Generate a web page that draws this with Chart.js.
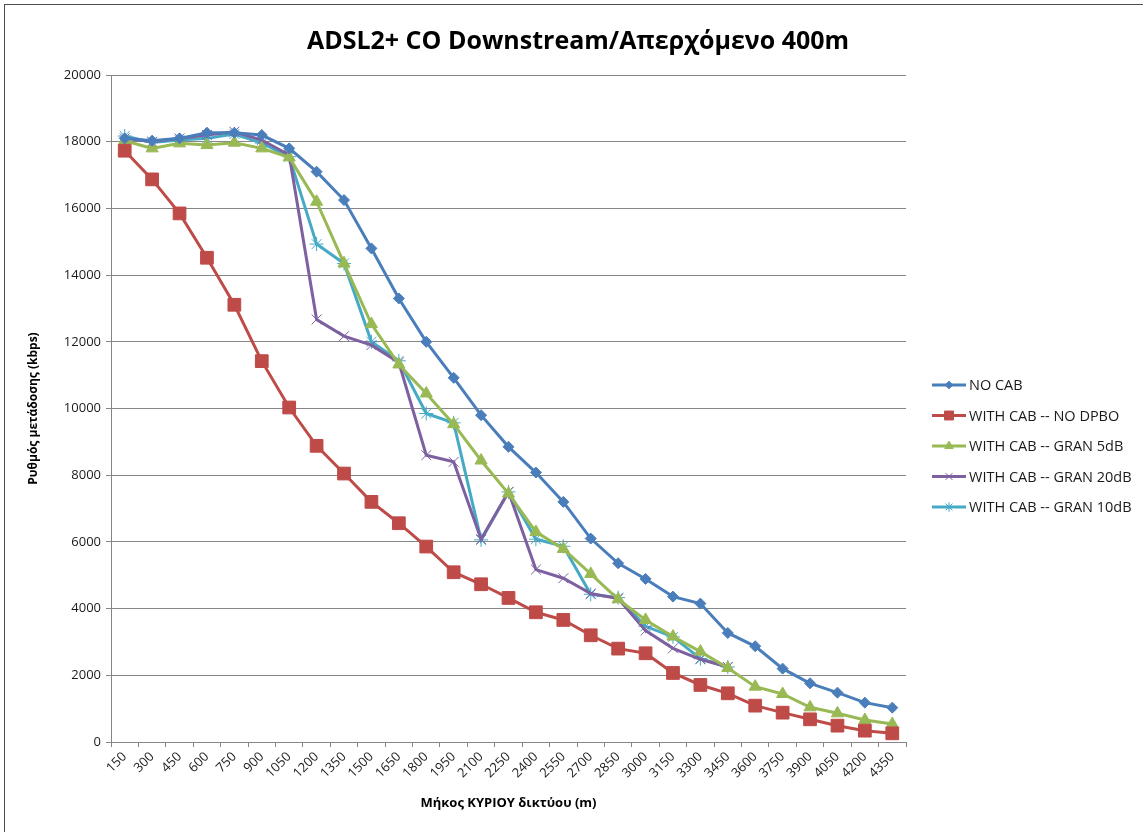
<!DOCTYPE html>
<html>
<head>
<meta charset="utf-8">
<script src="https://cdn.jsdelivr.net/npm/chart.js@4.4.1/dist/chart.umd.min.js"></script>
<style>
  html, body { margin: 0; padding: 0; background: #fff; }
  #wrap { position: relative; width: 1143px; height: 832px; }
  #frame { position: absolute; left: 4px; top: 4px; right: -2px; bottom: -2px;
           border-top: 1px solid #4d4d4d; border-left: 1px solid #4d4d4d; pointer-events: none; }
  canvas { display: block; }
</style>
</head>
<body>
<div id="wrap">
  <canvas id="c" width="1143" height="832"></canvas>
  <div id="frame"></div>
</div>
<script>
// Main line length (m)
const lengths = [150, 300, 450, 600, 750, 900, 1050, 1200, 1350, 1500, 1650, 1800, 1950, 2100, 2250,
                 2400, 2550, 2700, 2850, 3000, 3150, 3300, 3450, 3600, 3750, 3900, 4050, 4200, 4350];

// Downstream rate (kbps) per scenario
const noCab = [18100, 18030, 18100, 18270, 18270, 18200, 17800, 17100, 16250, 14800, 13300, 12000, 10920, 9800, 8850,
               8080, 7200, 6100, 5360, 4890, 4360, 4150, 3270, 2870, 2200, 1760, 1480, 1180, 1030];
const cabNoDpbo = [17730, 16870, 15850, 14520, 13110, 11420, 10030, 8880, 8050, 7200, 6560, 5860, 5090, 4730, 4320,
                   3890, 3660, 3200, 2800, 2660, 2070, 1710, 1460, 1090, 880, 680, 490, 340, 260];
const cabGran5 = [18030, 17800, 17950, 17900, 17970, 17800, 17530, 16200, 14350, 12530, 11320, 10450, 9530, 8440, 7450,
                  6300, 5790, 5040, 4280, 3660, 3160, 2710, 2220, 1660, 1440, 1040, 860, 660, 540];
const cabGran20 = [18100, 18000, 18100, 18200, 18300, 18050, 17600, 12670, 12170, 11900, 11380, 8600, 8400, 6080, 7500,
                   5170, 4910, 4450, 4300, 3340, 2810, 2480, 2250];
const cabGran10 = [18170, 17980, 18050, 18100, 18230, 17960, 17550, 14930, 14350, 12000, 11430, 9850, 9570, 6060, 7500,
                   6080, 5870, 4430, 4330, 3470, 3150, 2500, 2250];

const yTicks = [0, 2000, 4000, 6000, 8000, 10000, 12000, 14000, 16000, 18000, 20000];

const chartTitle = 'ADSL2+ CO Downstream/Απερχόμενο 400m';

const FONT = "'Open Sans', 'DejaVu Sans', sans-serif";

function series(label, data, color, style, radius, bw) {
  return {
    label, data,
    borderColor: color,
    backgroundColor: color,
    borderWidth: 3,
    pointStyle: style,
    pointRadius: radius,
    pointHoverRadius: radius,
    pointBackgroundColor: color,
    pointBorderColor: color,
    pointBorderWidth: bw,
    tension: 0,
    spanGaps: false
  };
}

const datasets = [
  series('NO CAB', noCab, '#4a7ebb', 'rectRot', 5.5, 1),
  series('WITH CAB -- NO DPBO', cabNoDpbo, '#be4b48', 'rect', 9, 1),
  series('WITH CAB -- GRAN 5dB', cabGran5, '#98b954', 'triangle', 7, 1),
  series('WITH CAB -- GRAN 20dB', cabGran20, '#7d60a0', 'crossRot', 7, 1),
  series('WITH CAB -- GRAN 10dB', cabGran10, '#46aac5', 'star', 7, 1)
];

// Title centred across the whole canvas, above the plot
const wideTitle = {
  id: 'wideTitle',
  afterDraw(chart) {
    const ctx = chart.ctx;
    ctx.save();
    ctx.font = 'bold 25px ' + FONT;
    ctx.fillStyle = '#000';
    ctx.textAlign = 'center';
    ctx.textBaseline = 'middle';
    ctx.fillText(chartTitle, 578, 42);
    ctx.restore();
  }
};

// Legend drawn beside the plot, using each dataset's own line and marker style
const sideLegend = {
  id: 'sideLegend',
  afterDraw(chart) {
    const ctx = chart.ctx;
    const x0 = 932, x1 = 966, tx = 969;
    const yStart = 385, step = 30.5;
    ctx.save();
    ctx.font = '14.5px ' + FONT;
    ctx.textBaseline = 'middle';
    chart.data.datasets.forEach((ds, i) => {
      const y = yStart + i * step;
      ctx.strokeStyle = ds.borderColor;
      ctx.lineWidth = 3;
      ctx.beginPath();
      ctx.moveTo(x0, y);
      ctx.lineTo(x1, y);
      ctx.stroke();
      ctx.fillStyle = ds.pointBackgroundColor;
      ctx.strokeStyle = ds.pointBorderColor;
      ctx.lineWidth = 1;
      Chart.helpers.drawPoint(ctx, {
        pointStyle: ds.pointStyle,
        radius: ds.pointRadius * 0.7,
        rotation: 0,
        borderWidth: 1
      }, (x0 + x1) / 2, y);
      ctx.fillStyle = '#1a1a1a';
      ctx.fillText(ds.label, tx, y + 1);
    });
    ctx.restore();
  }
};

new Chart(document.getElementById('c'), {
  type: 'line',
  data: { labels: lengths.map(String), datasets },
  options: {
    responsive: false,
    animation: false,
    devicePixelRatio: 1,
    layout: { padding: { left: 26, right: 237, top: 75, bottom: 0 } },
    plugins: {
      legend: { display: false },
      tooltip: { enabled: false },
      title: { display: false }
    },
    scales: {
      x: {
        type: 'category',
        offset: true,
        grid: { offset: true, drawOnChartArea: false, drawTicks: true, tickLength: 5, color: '#868686' },
        border: { display: true, color: '#868686', width: 1 },
        ticks: {
          autoSkip: false, maxRotation: 45, minRotation: 45,
          color: '#1a1a1a', font: { family: FONT, size: 13 }, padding: 2
        },
        title: {
          display: true, text: 'Μήκος ΚΥΡΙΟΥ δικτύου (m)',
          color: '#000', font: { family: FONT, size: 13, weight: 'bold' },
          padding: { top: 6, bottom: 21 }
        },
        afterFit(scale) { scale.height = 90; }
      },
      y: {
        min: 0, max: 20000,
        afterBuildTicks(scale) { scale.ticks = yTicks.map(v => ({ value: v })); },
        grid: { color: '#868686', lineWidth: 1, drawTicks: true, tickLength: 5 },
        border: { display: true, color: '#868686', width: 1 },
        ticks: {
          color: '#1a1a1a', font: { family: FONT, size: 13 }, padding: 5,
          callback: v => String(v)
        },
        title: {
          display: true, text: 'Ρυθμός μετάδοσης (kbps)',
          color: '#000', font: { family: FONT, size: 12, weight: 'bold' },
          padding: { top: 0, bottom: 8 }
        },
        afterFit(scale) { scale.width = 111 - 26; }
      }
    }
  },
  plugins: [wideTitle, sideLegend]
});
</script>
</body>
</html>
